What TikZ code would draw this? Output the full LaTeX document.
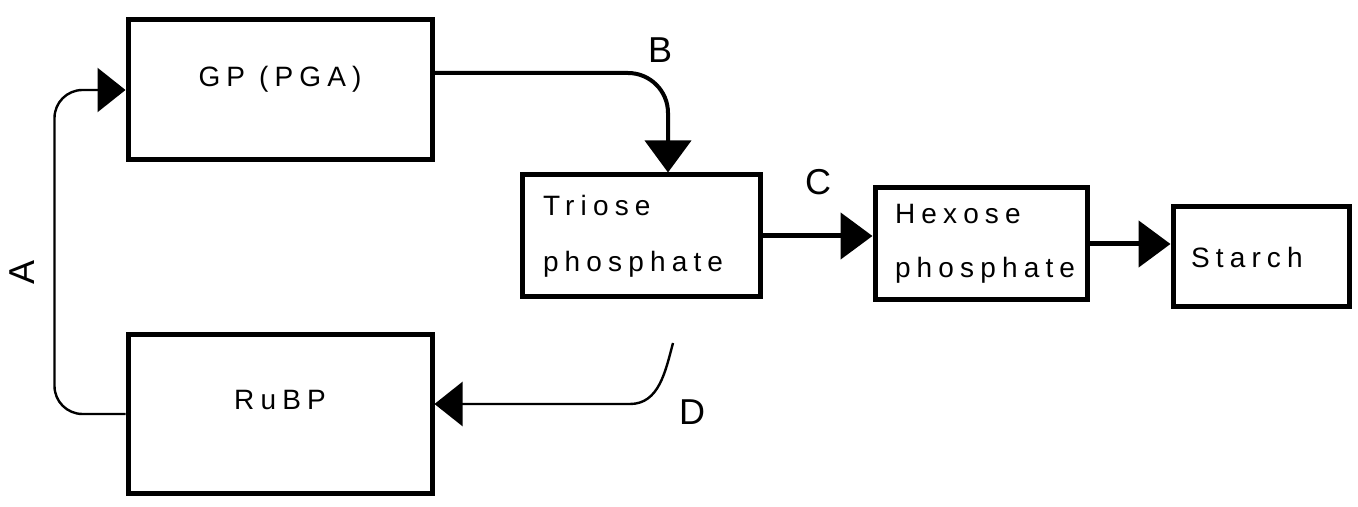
\documentclass[tikz,border=0pt]{standalone}
\usepackage{fontspec}
\setsansfont{Liberation Sans}
\usetikzlibrary{arrows.meta, positioning}

\begin{document}
\begin{tikzpicture}[x=0.5pt, y=-0.5pt,
    every node/.style={font=\sffamily\fontsize{14}{20}\selectfont\addfontfeature{LetterSpace=22}},
    box/.style={draw, line width=2.5pt, inner sep=8pt},
    flow/.style={line width=2.5pt, -{Triangle[length=16pt, width=23pt]}},
    thin flow/.style={line width=1.2pt, -{Triangle[length=14pt, width=22pt]}},
    tag/.style={font=\sffamily\fontsize{18}{20}\selectfont}]
    \useasboundingbox (0,0) rectangle (1358,507);

    \node[box, minimum width=152pt, minimum height=70pt] (gp) at (280,90) {\raisebox{14pt}{GP (PGA)}\hspace{8pt}};
    \node[box, minimum width=119pt, minimum height=61pt, align=left, text width=98pt] (triose) at (641,236) {Triose\\[8pt]phosphate};
    \node[box, minimum width=106pt, minimum height=56pt, align=left, text width=86pt] (hexose) at (981,244) {Hexose\\[7pt]phosphate};
    \node[box, minimum width=88pt, minimum height=50pt, align=left, text width=70pt] (starch) at (1261,257) {Starch\\[16pt]};
    \node[box, minimum width=152pt, minimum height=79pt] (rubp) at (280,414) {\raisebox{14pt}{RuBP}\hspace{30pt}};

    \coordinate (dtail) at (673,343);

    \draw[thin flow, rounded corners=14pt] (rubp.west) -- ++(-71,0) |- (gp.west);
    \draw[flow, line width=2pt, rounded corners=20pt] ([yshift=8.5pt]gp.east) -| ([xshift=13.5pt]triose.north);
    \draw[flow] (triose.east) -- (triose.east -| hexose.west);
    \draw[flow] (hexose.east) -- (hexose.east -| starch.west);
    \draw[thin flow] (dtail) to[out=-105, in=0] (630,404) -- ([yshift=5pt]rubp.east);

    \node[tag, rotate=90] (a) at (22,272) {A};
    \node[tag] (b) at (660,50) {B};
    \node[tag] (c) at (818,182) {C};
    \node[tag] (d) at (692,412) {D};
\end{tikzpicture}
\end{document}
